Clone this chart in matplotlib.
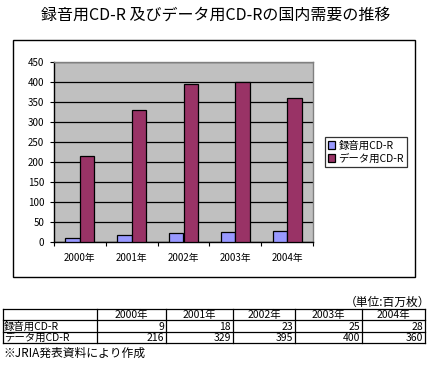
import matplotlib
matplotlib.use("Agg")
import matplotlib.pyplot as plt
import numpy as np
from matplotlib.lines import Line2D
from matplotlib.patches import Rectangle

plt.rcParams['font.family'] = ['Noto Sans CJK JP', 'DejaVu Sans']

title = "録音用CD-R 及びデータ用CD-Rの国内需要の推移"
years = ["2000年", "2001年", "2002年", "2003年", "2004年"]
series_names = ["録音用CD-R", "データ用CD-R"]
audio = [9, 18, 23, 25, 28]
data = [216, 329, 395, 400, 360]
yticks = [0, 50, 100, 150, 200, 250, 300, 350, 400, 450]
unit_label = "（単位:百万枚）"
footnote = "※JRIA発表資料により作成"

W, H = 433, 380
fig = plt.figure(figsize=(W / 100, H / 100), dpi=100)

# overlay axes in pixel coords for frames and table
ov = fig.add_axes([0, 0, 1, 1])
ov.set_xlim(0, W)
ov.set_ylim(H, 0)
ov.axis('off')

ov.text(216, 15, title, ha='center', va='center', fontsize=11.5)
ov.add_patch(Rectangle((13, 40), 402, 237, fill=False, edgecolor='black', lw=1.0))

# chart axes
L, T, R, B = 54, 62, 313, 242
ax = fig.add_axes([L / W, 1 - B / H, (R - L) / W, (B - T) / H])
ax.set_facecolor('#C0C0C0')
x = np.arange(len(years))
bw = 0.28
ax.bar(x - bw / 2, audio, bw, color='#9999FF', edgecolor='black', lw=0.9,
       label=series_names[0], zorder=3)
ax.bar(x + bw / 2, data, bw, color='#993366', edgecolor='black', lw=0.9,
       label=series_names[1], zorder=3)
ax.set_xlim(-0.5, len(years) - 0.5)
ax.set_ylim(0, 450)
ax.set_yticks(yticks)
ax.set_yticklabels([str(v) for v in yticks], fontsize=7)
ax.set_xticks(x)
ax.set_xticklabels(years, fontsize=7)
ax.set_xticks(np.arange(-0.5, len(years)), minor=True)
ax.tick_params(axis='x', which='major', length=0, pad=8)
ax.tick_params(axis='x', which='minor', length=3, width=0.8, direction='out')
ax.tick_params(axis='y', length=3, width=0.8, direction='out', pad=4)
ax.yaxis.grid(True, color='black', lw=0.9, zorder=1)
ax.set_axisbelow(True)
for s in ['top', 'right']:
    ax.spines[s].set_color('#808080')
    ax.spines[s].set_linewidth(1.0)
for s in ['left', 'bottom']:
    ax.spines[s].set_color('black')
    ax.spines[s].set_linewidth(1.0)

leg = ax.legend(loc='center left', bbox_to_anchor=((325 - L) / (R - L), (B - 152) / (B - T)),
                fontsize=7.5, frameon=True, fancybox=False, edgecolor='black',
                handlelength=0.7, handleheight=0.7, handletextpad=0.3,
                borderpad=0.3, labelspacing=0.25, borderaxespad=0)
leg.get_frame().set_linewidth(0.9)

# table
ov.text(430, 302, unit_label, ha='right', va='center', fontsize=8.5)
cols = [3, 97, 166, 233, 295, 362, 425]
rows = [309, 320, 332, 343]
for yy in rows:
    ov.add_line(Line2D([cols[0], cols[-1]], [yy, yy], color='black', lw=0.9))
for xx in cols:
    ov.add_line(Line2D([xx, xx], [rows[0], rows[-1]], color='black', lw=0.9))
fs = 7.5
for i, yl in enumerate(years):
    ov.text((cols[i + 1] + cols[i + 2]) / 2, rows[1] - 2, yl,
            ha='center', va='baseline', fontsize=fs)
for r, (name, vals) in enumerate(zip(series_names, [audio, data])):
    yb = rows[r + 2] - 2
    ov.text(cols[0] + 1, yb, name, ha='left', va='baseline', fontsize=fs)
    for i, v in enumerate(vals):
        ov.text(cols[i + 2] - 2, yb, str(v), ha='right', va='baseline', fontsize=fs)
ov.text(3, 353, footnote, ha='left', va='center', fontsize=8.5)

fig.savefig("out.png", dpi=100)
